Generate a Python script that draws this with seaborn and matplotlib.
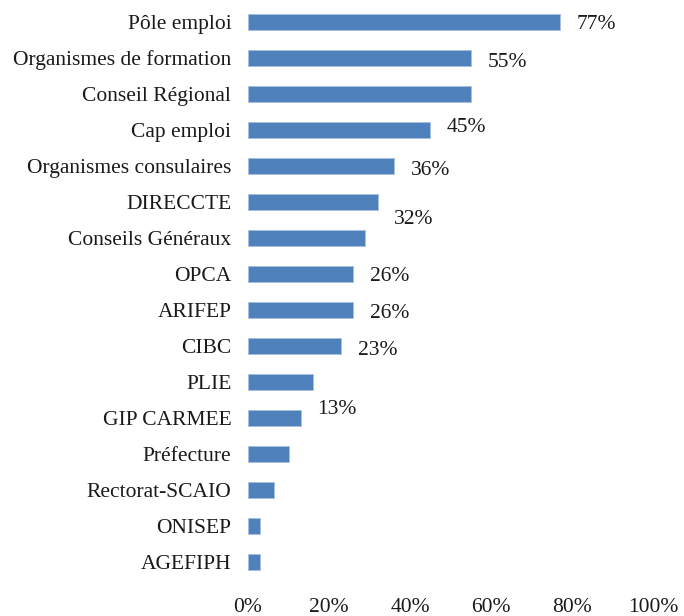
import numpy as np
import pandas as pd
import matplotlib
matplotlib.use("Agg")
import matplotlib.pyplot as plt
import seaborn as sns

# data (percent)
categories = ["Pôle emploi", "Organismes de formation", "Conseil Régional", "Cap emploi",
              "Organismes consulaires", "DIRECCTE", "Conseils Généraux", "OPCA", "ARIFEP",
              "CIBC", "PLIE", "GIP CARMEE", "Préfecture", "Rectorat-SCAIO", "ONISEP", "AGEFIPH"]
values = [77, 55, 55, 45, 36, 32, 29, 26, 26, 23, 16, 13, 10, 6.5, 3, 3]
value_labels = ["77%", "55%", None, "45%", "36%", "32%", None, "26%", "26%",
                "23%", None, "13%", None, None, None, None]
x_ticks = [0, 20, 40, 60, 80, 100]
x_tick_labels = ["0%", "20%", "40%", "60%", "80%", "100%"]

# vertical nudges of the value labels (pixels, positive = down), as in the original
label_dy = [2, 4, 0, -3, 4, 17, 0, 2, 3, 4, 0, -9, 0, 0, 0, 0]

sns.set_style("white")
plt.rcParams["font.family"] = ["Liberation Serif", "DejaVu Serif"]

df = pd.DataFrame({"org": categories, "pct": values})

fig = plt.figure(figsize=(6.84, 6.16), dpi=100)
ax = fig.add_axes([0.3626, 0.0584, 0.5921, 0.9351])

sns.barplot(data=df, x="pct", y="org", orient="h", color="#4F81BD", saturation=1,
            width=0.47, edgecolor="#A9C1E0", linewidth=0.7, ax=ax)

ax.set_xlim(0, 100)
ax.set_ylim(15.5, -0.5)
ax.set_xticks(x_ticks)
ax.set_xticklabels(x_tick_labels)
ax.set_xlabel("")
ax.set_ylabel("")
ax.tick_params(axis="x", length=0, pad=13, labelsize=15.5, colors="#1a1a1a")
ax.tick_params(axis="y", length=0, pad=12, labelsize=15.5, colors="#1a1a1a")
sns.despine(ax=ax, left=True, bottom=True)

for i, (v, lab) in enumerate(zip(values, value_labels)):
    if lab is None:
        continue
    ax.annotate(lab, xy=(v, i), xytext=(12, -label_dy[i] * 0.72), textcoords="offset points",
                ha="left", va="center", fontsize=15.5, color="#1a1a1a")

fig.savefig("out.png", dpi=100)
